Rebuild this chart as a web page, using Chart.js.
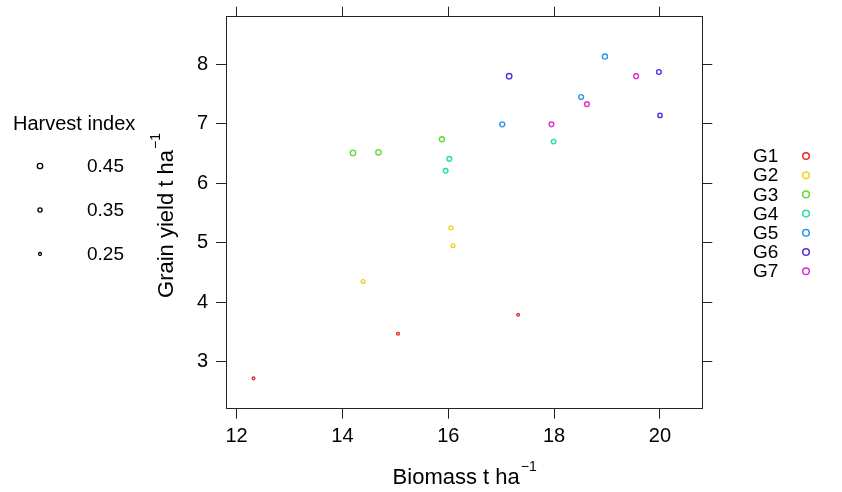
<!DOCTYPE html>
<html>
<head>
<meta charset="utf-8">
<script src="https://cdn.jsdelivr.net/npm/chart.js@4/dist/chart.umd.min.js"></script>
<style>
  html, body { margin: 0; padding: 0; background: #fff; }
  #wrap { width: 842px; height: 492px; }
</style>
</head>
<body>
<div id="wrap"><canvas id="hiChart" width="842" height="492"></canvas></div>
<script>
// ---- data ----
var genotypes  = ['G1', 'G2', 'G3', 'G4', 'G5', 'G6', 'G7'];
var biomass    = [[12.32, 15.05, 17.32], [14.39, 16.05, 16.09], [14.20, 14.68, 15.88],
                  [15.95, 16.02, 17.99], [17.02, 18.51, 18.96], [17.15, 19.98, 20.00],
                  [17.95, 18.62, 19.55]];
var grainYield = [[2.72, 3.47, 3.79], [4.35, 5.25, 4.95], [6.51, 6.52, 6.74],
                  [6.21, 6.41, 6.70], [6.99, 7.45, 8.13], [7.80, 7.87, 7.14],
                  [6.99, 7.33, 7.80]];
var hiLevels   = [0.45, 0.35, 0.25];
var xTicks     = [12, 14, 16, 18, 20];
var yTicks     = [3, 4, 5, 6, 7, 8];

var colors = ['#E82A2A', '#F2D21E', '#62DE2C', '#27E0A0', '#2D96EA', '#5B2BE2', '#E22FD0'];
var FONT = '"Liberation Sans", Arial, Helvetica, sans-serif';
var INK = '#222';

function hiRadius(hi) { return hi * 6; }

var datasets = genotypes.map(function(g, i) {
  return {
    label: g,
    data: biomass[i].map(function(b, j) { return { x: b, y: grainYield[i][j] }; }),
    borderColor: colors[i],
    backgroundColor: 'rgba(0,0,0,0)',
    pointBorderWidth: 1.4,
    pointRadius: function(ctx) { var r = ctx.raw; return hiRadius(r.y / r.x); },
    pointHoverRadius: function(ctx) { var r = ctx.raw; return hiRadius(r.y / r.x); }
  };
});

function fixTicks(vals) {
  return function(scale) { scale.ticks = vals.map(function(v) { return { value: v }; }); };
}

function axis(pos, min, max, vals, size, showLabels) {
  return {
    type: 'linear',
    position: pos,
    min: min,
    max: max,
    afterBuildTicks: fixTicks(vals),
    afterFit: function(s) {
      if (pos === 'left' || pos === 'right') s.width = size; else s.height = size;
      // no extra room for half tick labels, the box is placed by hand
      s.paddingTop = 0; s.paddingBottom = 0; s.paddingLeft = 0; s.paddingRight = 0;
    },
    grid: { drawOnChartArea: false, drawTicks: true, tickLength: 10, color: INK, tickWidth: 1 },
    border: { display: true, color: INK, width: 1 },
    ticks: { display: showLabels, color: '#000', padding: pos === 'left' ? 8 : 6,
             font: { family: FONT, size: 20 } }
  };
}

function drawSupLabel(c, main, sup, cx, baseY, size) {
  var supSize = 14;
  c.font = size + 'px ' + FONT;
  var w1 = c.measureText(main).width;
  c.font = supSize + 'px ' + FONT;
  var w2 = c.measureText(sup).width;
  var x0 = cx - (w1 + w2) / 2;
  c.textAlign = 'left';
  c.textBaseline = 'alphabetic';
  c.font = size + 'px ' + FONT;
  c.fillText(main, x0, baseY);
  c.font = supSize + 'px ' + FONT;
  c.fillText(sup, x0 + w1 + 1, baseY - 13);
}

// axis titles and both legends are drawn by hand (superscripts, R-style layout)
var extraText = {
  id: 'extraText',
  afterDraw: function(chart) {
    var c = chart.ctx, a = chart.chartArea;
    c.save();
    c.fillStyle = '#000';
    drawSupLabel(c, 'Biomass t ha', '\u22121', (a.left + a.right) / 2, 484, 22);
    c.save();
    c.translate(173, 216);
    c.rotate(-Math.PI / 2);
    drawSupLabel(c, 'Grain yield t ha', '\u22121', 0, 0, 22);
    c.restore();

    // harvest index legend
    c.font = '20px ' + FONT;
    c.textAlign = 'left';
    c.textBaseline = 'alphabetic';
    c.fillText('Harvest index', 13, 130);
    c.font = '19px ' + FONT;
    c.textBaseline = 'middle';
    hiLevels.forEach(function(h, i) {
      var y = 166 + i * 44;
      c.beginPath();
      c.arc(40, y, hiRadius(h), 0, Math.PI * 2);
      c.strokeStyle = '#000';
      c.lineWidth = 1.3;
      c.stroke();
      c.fillText(h.toFixed(2), 87, y + 1);
    });

    // genotype legend
    genotypes.forEach(function(g, i) {
      var y = 156 + i * 19.2;
      c.fillStyle = '#000';
      c.fillText(g, 753, y + 1);
      c.beginPath();
      c.arc(806, y, 3.3, 0, Math.PI * 2);
      c.strokeStyle = colors[i];
      c.lineWidth = 1.5;
      c.stroke();
    });
    c.restore();
  }
};

new Chart(document.getElementById('hiChart'), {
  type: 'scatter',
  data: { datasets: datasets },
  options: {
    responsive: false,
    devicePixelRatio: 1,
    animation: false,
    events: [],
    layout: { padding: 0 },
    plugins: { legend: { display: false }, tooltip: { enabled: false } },
    scales: {
      x:  axis('bottom', 11.8, 20.8, xTicks, 83.3, true),
      x2: axis('top', 11.8, 20.8, xTicks, 16.7, false),
      y:  axis('left', 2.21, 8.8, yTicks, 226, true),
      y2: axis('right', 2.21, 8.8, yTicks, 139.7, false)
    }
  },
  plugins: [extraText]
});
</script>
</body>
</html>
